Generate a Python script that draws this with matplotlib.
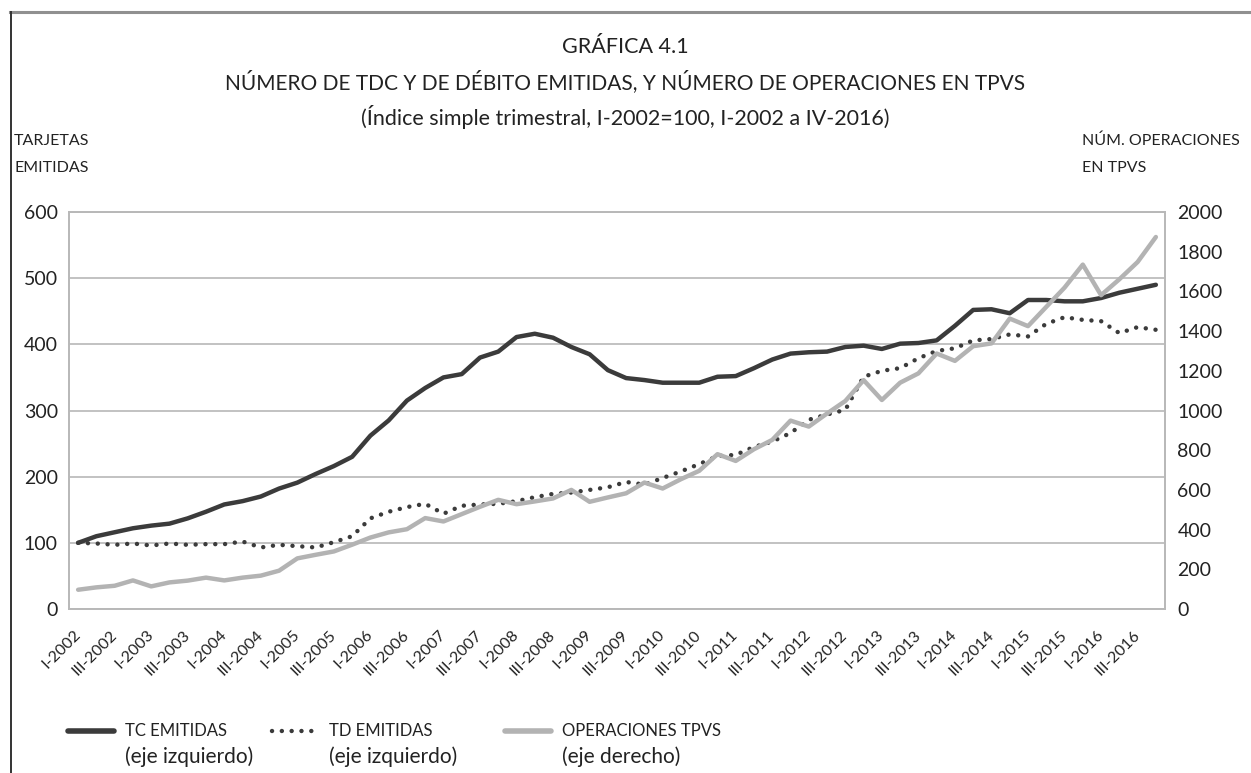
import numpy as np
import matplotlib.pyplot as plt
from matplotlib.lines import Line2D

plt.rcParams['font.family'] = ['Lato', 'DejaVu Sans']

# quarters I-2002 .. IV-2016
years = range(2002, 2017)
quarters = ['I', 'II', 'III', 'IV']
periods = [q + '-' + str(y) for y in years for q in quarters]

# TC emitidas (index, left axis)
tc = [100, 110, 116, 122, 126, 129, 137, 147, 158, 163,
      170, 182, 191, 204, 216, 230, 262, 285, 315, 334,
      350, 355, 380, 389, 411, 416, 410, 396, 385, 361,
      349, 346, 342, 342, 342, 351, 352, 364, 377, 386,
      388, 389, 396, 398, 393, 401, 402, 406, 428, 452,
      453, 447, 467, 467, 465, 465, 470, 478, 484, 490]
# TD emitidas (index, left axis)
td = [100, 99, 97, 99, 96, 99, 97, 98, 98, 102,
      93, 97, 95, 93, 101, 110, 137, 147, 154, 159,
      144, 156, 158, 159, 163, 169, 174, 176, 180, 184,
      192, 188, 198, 208, 219, 231, 233, 245, 253, 266,
      286, 294, 301, 351, 360, 364, 379, 390, 394, 406,
      408, 415, 412, 431, 441, 437, 435, 417, 426, 422]
# operaciones en TPVs (right axis)
tpv = [97, 109, 117, 144, 114, 134, 143, 158, 144, 158,
       168, 193, 255, 273, 290, 324, 360, 386, 402, 458,
       441, 478, 515, 550, 528, 542, 557, 600, 540, 562,
       583, 637, 607, 654, 696, 780, 746, 805, 852, 949,
       919, 985, 1048, 1153, 1053, 1140, 1187, 1287, 1250, 1324,
       1338, 1463, 1425, 1522, 1619, 1735, 1581, 1661, 1748, 1874]

dark = '#3b3b3b'
light = '#b3b3b3'
grid = '#b8b8b8'
txt = '#222222'

x = np.arange(len(periods))

fig = plt.figure(figsize=(12.51, 7.73), dpi=100)
ax = fig.add_axes([69/1251, (773-609)/773, 1096/1251, 397/773])
ax2 = ax.twinx()

ax.plot(x, tc, color=dark, lw=3.2, solid_capstyle='round', zorder=3)
ax.plot(x, td, color=dark, lw=3.2, linestyle=(0, (0.01, 2.2)),
        dash_capstyle='round', zorder=3)
ax2.plot(x, tpv, color=light, lw=3.2, solid_capstyle='round', zorder=2)

ax.set_xlim(-0.5, len(periods) - 0.5)
ax.set_ylim(0, 600)
ax.set_yticks(range(0, 601, 100))
ax2.set_ylim(0, 2000)
ax2.set_yticks(range(0, 2001, 200))

ax.set_xticks(x[::2])
ax.set_xticklabels(periods[::2], rotation=45, ha='right', va='center',
                   rotation_mode='anchor', fontsize=11.5, color=txt)
ax.tick_params(axis='x', length=0, pad=17)
ax.tick_params(axis='y', length=0, pad=8, labelsize=14, labelcolor=txt)
ax2.tick_params(axis='y', length=0, pad=9, labelsize=14, labelcolor=txt)

ax.grid(axis='y', color=grid, lw=1.2)
ax.set_axisbelow(True)
for a in (ax, ax2):
    for s in a.spines.values():
        s.set_color(grid)
        s.set_linewidth(1.2)

# frame lines of the page
fig.add_artist(Line2D([10/1251, 1], [1-12/773, 1-12/773], color='#909090', lw=2.2))
fig.add_artist(Line2D([10.5/1251, 10.5/1251], [0, 1-12/773], color='#333333', lw=1.4))

fig.text(0.5, 1-47/773, 'GRÁFICA 4.1', ha='center', va='center', fontsize=15.5, color=txt)
fig.text(0.5, 1-82/773, 'NÚMERO DE TDC Y DE DÉBITO EMITIDAS, Y NÚMERO DE OPERACIONES EN TPVS',
         ha='center', va='center', fontsize=15, color=txt)
fig.text(0.5, 1-117/773, '(Índice simple trimestral, I-2002=100, I-2002 a IV-2016)',
         ha='center', va='center', fontsize=15.5, color=txt)

fig.text(14/1251, 1-141/773, 'TARJETAS', ha='left', va='center', fontsize=11.5, color=txt)
fig.text(14/1251, 1-168/773, 'EMITIDAS', ha='left', va='center', fontsize=11.5, color=txt)
fig.text(1082/1251, 1-141/773, 'NÚM. OPERACIONES', ha='left', va='center', fontsize=11.5, color=txt)
fig.text(1082/1251, 1-168/773, 'EN TPVS', ha='left', va='center', fontsize=11.5, color=txt)

# legend
legend_items = [
    (68, 'TC EMITIDAS', '(eje izquierdo)', dict(color=dark, lw=4, solid_capstyle='round')),
    (272, 'TD EMITIDAS', '(eje izquierdo)', dict(color=dark, lw=3.2, linestyle=(0, (0.01, 2.2)),
                                                 dash_capstyle='round')),
    (505, 'OPERACIONES TPVS', '(eje derecho)', dict(color=light, lw=4, solid_capstyle='round')),
]
for x0, name, axis_note, style in legend_items:
    fig.add_artist(Line2D([x0/1251, (x0+46)/1251], [1-731/773, 1-731/773], **style))
    fig.text((x0+57)/1251, 1-731/773, name, ha='left', va='center', fontsize=12, color=txt)
    fig.text((x0+57)/1251, 1-757/773, axis_note, ha='left', va='center', fontsize=15, color=txt)

fig.savefig('out.png', dpi=100, facecolor='white')
